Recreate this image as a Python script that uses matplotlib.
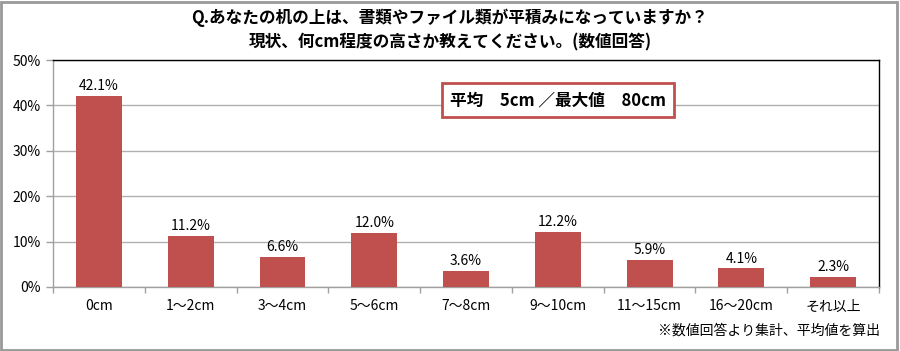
import matplotlib
matplotlib.use("Agg")
import matplotlib.pyplot as plt
from matplotlib.patches import Rectangle

plt.rcParams['font.family'] = ['Noto Sans CJK JP', 'DejaVu Sans']

categories = ["0cm", "1〜2cm", "3〜4cm", "5〜6cm", "7〜8cm", "9〜10cm", "11〜15cm", "16〜20cm", "それ以上"]
values = [42.1, 11.2, 6.6, 12.0, 3.6, 12.2, 5.9, 4.1, 2.3]
yticks = [0, 10, 20, 30, 40, 50]
title = "Q.あなたの机の上は、書類やファイル類が平積みになっていますか？\n現状、何cm程度の高さか教えてください。(数値回答)"
box_text = "平均　5cm ／最大値　80cm"
note = "※数値回答より集計、平均値を算出"

W, H = 900, 351
fig = plt.figure(figsize=(9, 3.51), dpi=100)
ax = fig.add_axes([53/W, 1-287/H, (879-53)/W, (287-60)/H])

x = list(range(len(categories)))
bars = ax.bar(x, values, width=0.5, color="#C0504D", zorder=3)
for xi, v in zip(x, values):
    ax.text(xi, v + 0.6, f"{v:.1f}%", ha="center", va="bottom", fontsize=10, color="black")

ax.set_xlim(-0.5, len(categories) - 0.5)
ax.set_ylim(0, 50)
ax.set_yticks(yticks)
ax.set_yticklabels([f"{t}%" for t in yticks], fontsize=10)
ax.set_xticks(x)
ax.set_xticklabels(categories, fontsize=10)
ax.tick_params(axis="x", length=0, pad=9)
ax.set_xticks([i - 0.5 for i in range(len(categories) + 1)], minor=True)
ax.tick_params(axis="x", which="minor", length=4, color="#A0A0A0", width=1)
ax.tick_params(axis="y", length=5, color="#A0A0A0", width=1, pad=4)
ax.grid(axis="y", color="#B0B0B0", linewidth=1, zorder=0)
ax.spines["left"].set_color("#A0A0A0")
ax.spines["bottom"].set_color("#A0A0A0")
ax.spines["top"].set_color("black")
ax.spines["right"].set_color("black")
for s in ax.spines.values():
    s.set_linewidth(1)

# info box
fig.text(558/W, 1-100/H, box_text, ha="center", va="center", fontsize=12, fontweight="bold",
         bbox=dict(boxstyle="square,pad=0.5", facecolor="white", edgecolor="#C0504D", linewidth=2),
         zorder=5)

fig.text(450/W, 1-30/H, title, ha="center", va="center", fontsize=12, fontweight="bold",
         linespacing=1.4)
fig.text(880/W, 1-331/H, note, ha="right", va="center", fontsize=10)

fig.patches.append(Rectangle((1/W, 1/H), 1-4/W, 1-3/H, transform=fig.transFigure,
                             fill=False, edgecolor="#999999", linewidth=2))

fig.savefig("out.png", dpi=100)
